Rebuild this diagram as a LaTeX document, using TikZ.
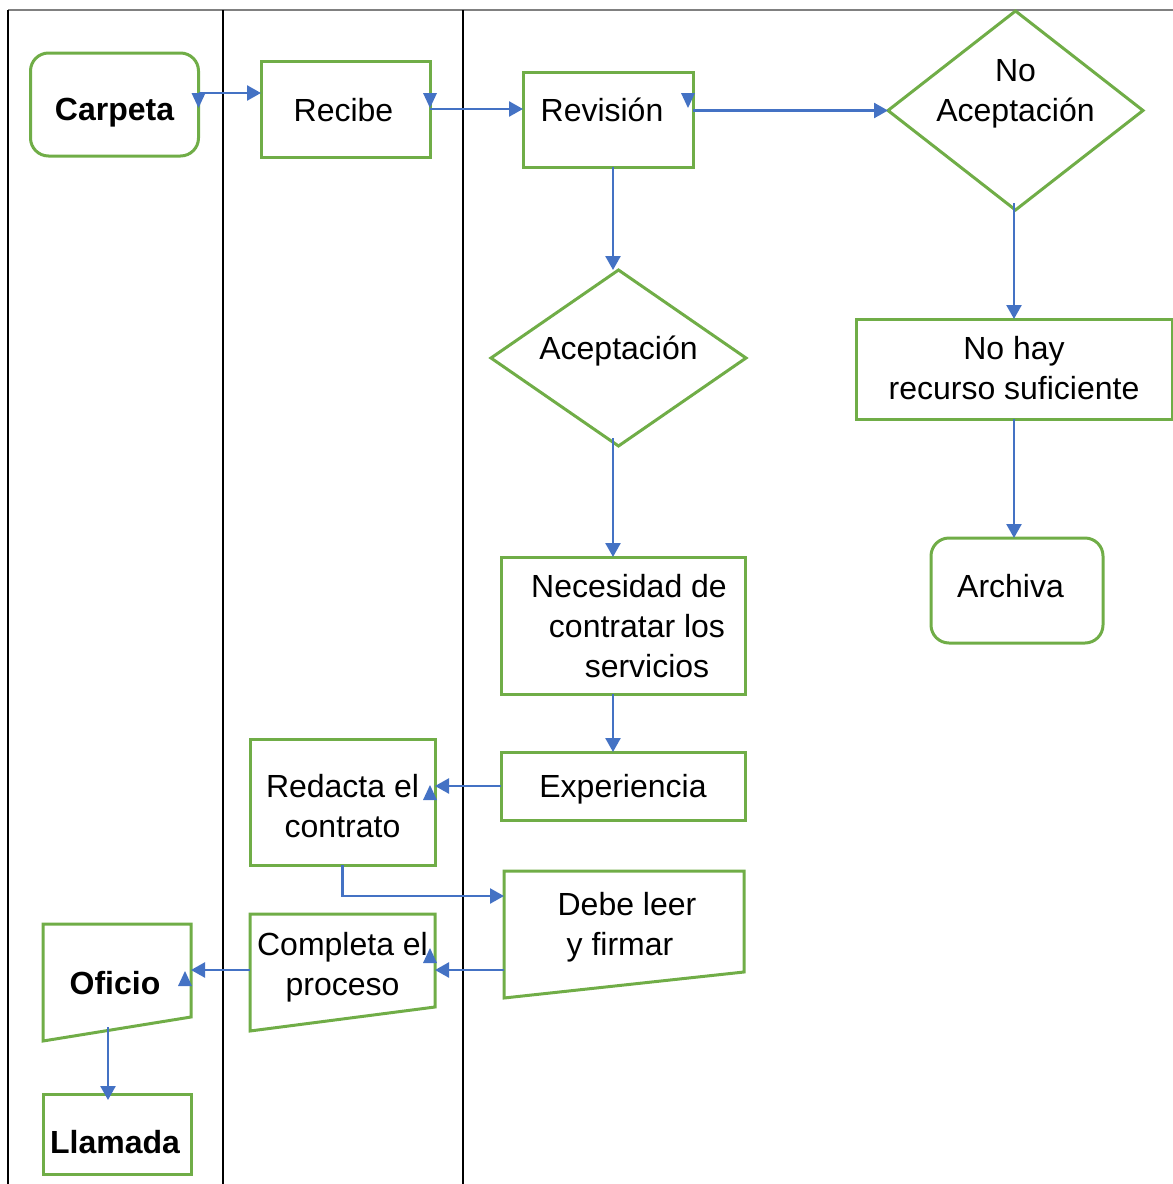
\documentclass[tikz,border=0pt]{standalone}
\usepackage{fontspec}
\setmainfont{Liberation Sans}
\usetikzlibrary{arrows.meta,calc}
\definecolor{flowgreen}{HTML}{70AD47}
\definecolor{flowblue}{HTML}{4472C4}
\definecolor{rulegray}{HTML}{808080}
\newcommand{\lab}{\fontsize{32}{40}\selectfont}
\begin{document}
\begin{tikzpicture}[x=1pt,y=-1pt,
  shapebox/.style={inner sep=0pt, outer sep=0pt, text height=40pt, align=center, font=\lab},
  gbox/.style={shapebox, draw=flowgreen, line width=3pt},
  rbox/.style={gbox, rounded corners=18pt},
  gline/.style={draw=flowgreen, line width=3pt, line join=miter},
  conn/.style={draw=flowblue, line width=2.5pt, -{Triangle[length=14pt,width=15pt]}},
  lane/.style={draw=black, line width=2.2pt},
  downtip/.pic={\fill[flowblue] (-7,0) -- (7,0) -- (0,15) -- cycle;},
  uptip/.pic={\fill[flowblue] (-7,15) -- (7,15) -- (0,0) -- cycle;}
]
\useasboundingbox (0,0) rectangle (1173,1184);

% lanes
\draw[draw=rulegray, line width=2.5pt] (8,10) -- (1173,10);
\draw[lane] (8,10) -- (8,1184);
\draw[lane] (223,10) -- (223,1184);
\draw[lane] (463,10) -- (463,1184);

% process steps
\node[rbox, minimum width=168pt, minimum height=103pt, text depth=9pt, font=\lab\bfseries] (carpeta) at (114.5,104.5) {Carpeta};
\node[gbox, minimum width=169pt, minimum height=96pt, text depth=16pt] (recibe) at (345.5,109) {Recibe\hspace*{4pt}};
\node[gbox, minimum width=170pt, minimum height=95pt, text depth=37pt] (revision) at (608,119.5) {Revisión\hspace*{12pt}};
\node[shapebox, minimum width=255pt, minimum height=199pt, text height=80pt, text depth=59pt] (noacep) at (1015.5,110.5) {No\\Aceptación};
\node[shapebox, minimum width=255pt, minimum height=176pt, text depth=38pt] (acep) at (618.5,358) {Aceptación};
\node[gbox, minimum width=316pt, minimum height=96pt, text height=80pt, text depth=20pt] (nohay) at (1014,369) {No hay\\recurso suficiente};
\node[rbox, minimum width=172pt, minimum height=105pt, text depth=27pt] (archiva) at (1017,590.5) {Archiva\hspace*{13pt}};
\node[gbox, minimum width=244pt, minimum height=137pt, text height=120pt, text depth=17pt] (necesidad) at (623,625.5)
  {\hspace*{12pt}Necesidad de\\\hspace*{28pt}contratar los\\\hspace*{48pt}servicios};
\node[gbox, minimum width=244pt, minimum height=68pt, text depth=18pt] (experiencia) at (623,786) {Experiencia};
\node[gbox, minimum width=185pt, minimum height=126pt, text height=80pt, text depth=10pt] (redacta) at (342.5,802) {Redacta el\\contrato};
\node[shapebox, minimum width=240pt, minimum height=127pt, text height=80pt, text depth=39pt] (debe) at (624,934.5) {\hspace*{6pt}Debe leer\\y firmar\hspace*{8pt}};
\node[shapebox, minimum width=185pt, minimum height=117pt, text height=80pt, text depth=35pt] (completa) at (342.5,972.5) {Completa el\\proceso};
\node[shapebox, minimum width=148pt, minimum height=117pt, text depth=17pt, font=\lab\bfseries] (oficio) at (117,982.5) {Oficio\hspace*{4pt}};
\node[gbox, minimum width=148pt, minimum height=80pt, text depth=2pt, font=\lab\bfseries] (llamada) at (117,1134) {Llamada\hspace*{4pt}};

% decision outlines
\draw[gline] (noacep.north) -- (noacep.east) -- (noacep.south) -- (noacep.west) -- cycle;
\draw[gline] (acep.north) -- (acep.east) -- (acep.south) -- (acep.west) -- cycle;

% slanted-bottom outlines
\draw[gline] (debe.north west) -- (debe.north east) -- ($(debe.south east)+(0,-26)$) -- (debe.south west) -- cycle;
\draw[gline] (completa.north west) -- (completa.north east) -- ($(completa.south east)+(0,-24)$) -- (completa.south west) -- cycle;
\draw[gline] (oficio.north west) -- (oficio.north east) -- ($(oficio.south east)+(0,-24)$) -- (oficio.south west) -- cycle;

% connectors
\draw[conn] ($(carpeta.east)+(0,-11.5)$) coordinate (c1) -- (c1 -| recibe.west);
\draw[conn] (recibe.east) -- (recibe.east -| revision.west);
\draw[conn] (noacep.west -| revision.east) -- (noacep.west);
\draw[conn] ($(revision.south)+(5,0)$) coordinate (c2) -- (c2 |- acep.north);
\draw[conn] ($(acep.south)+(-5.5,-8)$) coordinate (c3) -- (c3 |- necesidad.north);
\draw[conn] ($(noacep.south)+(-1.5,-7)$) coordinate (c4) -- (c4 |- nohay.north);
\draw[conn] (nohay.south) -- (nohay.south |- archiva.north);
\draw[conn] ($(necesidad.south)+(-10,0)$) coordinate (c5) -- (c5 |- experiencia.north);
\draw[conn] (experiencia.west) -- (experiencia.west -| redacta.east);
\draw[conn] (redacta.south) |- ($(debe.north west)+(0,25)$);
\draw[conn] ($(debe.north west)+(0,99)$) coordinate (c6) -- (c6 -| completa.east);
\draw[conn] ($(completa.north west)+(0,56)$) coordinate (c7) -- (c7 -| oficio.east);
\draw[conn] ($(oficio.south)+(-9,-14)$) -- ($(llamada.north)+(-9,6)$);

% small connector end marks
\pic at ($(carpeta.east)+(0,-11.5)$) {downtip};
\pic at ($(recibe.east)+(0,-16)$) {downtip};
\pic at ($(revision.north east)+(-5,21)$) {downtip};
\pic at ($(redacta.east)+(-5,-17)$) {uptip};
\pic at ($(completa.north east)+(-5,34)$) {uptip};
\pic at ($(oficio.north east)+(-6,47)$) {uptip};
\end{tikzpicture}
\end{document}
